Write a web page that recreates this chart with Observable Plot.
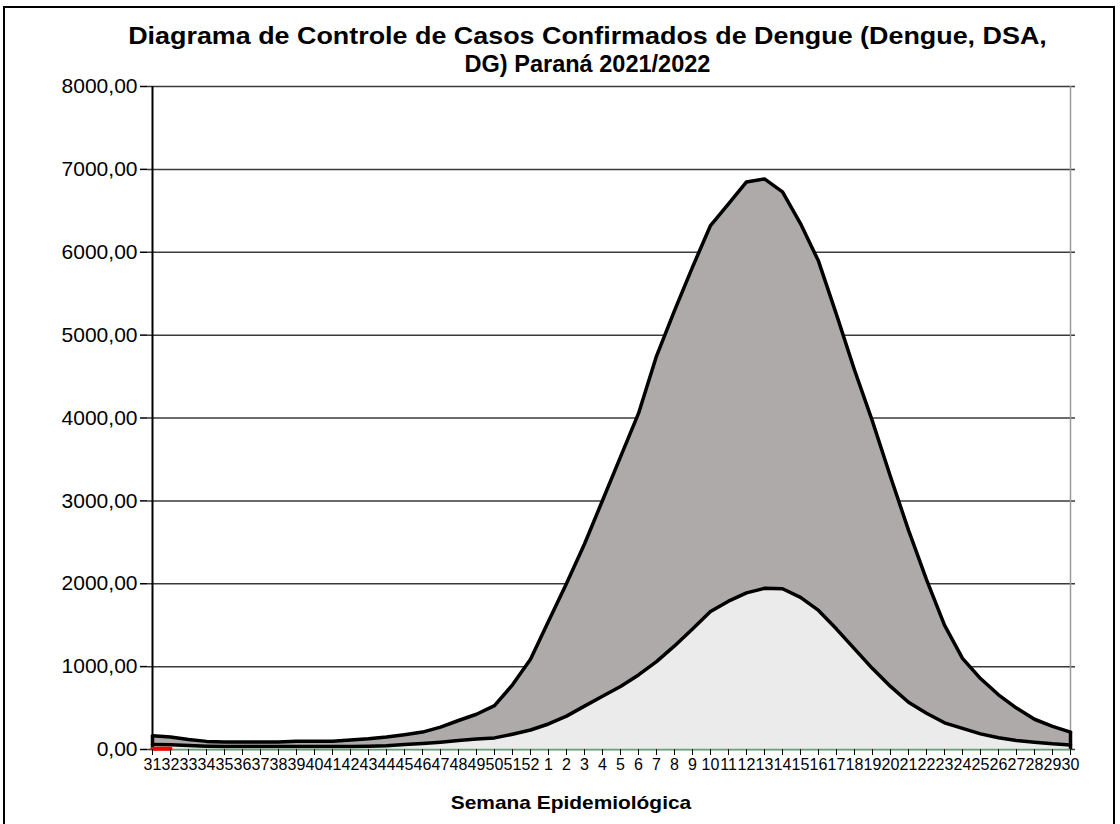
<!DOCTYPE html>
<html>
<head>
<meta charset="utf-8">
<script src="https://cdn.jsdelivr.net/npm/d3@7"></script>
<script src="https://cdn.jsdelivr.net/npm/@observablehq/plot@0.6"></script>
<style>
  html, body { margin: 0; padding: 0; background: #fff; overflow: hidden; }
  #wrap { position: relative; width: 1120px; height: 824px; overflow: hidden; font-family: "Liberation Sans", Arial, sans-serif; }
  #frame { position: absolute; left: 3px; top: 6px; width: 1112px; height: 840px; border: 2px solid #000; box-sizing: border-box; }
  .title { position: absolute; left: 0; width: 1175px; text-align: center; font-weight: bold; font-size: 24px; line-height: normal; color: #000; transform-origin: 587.5px 0; }
  #xlabel { position: absolute; left: 0; width: 1142px; top: 792px; text-align: center; font-weight: bold; font-size: 19px; transform: scaleX(1.1); transform-origin: 571px 0; }
  #chart { position: absolute; left: 0; top: 0; width: 1120px; }
  #chart svg { max-width: none; display: block; }
</style>
</head>
<body>
<div id="wrap">
  <div id="chart"></div>
  <div id="frame"></div>
  <div class="title" style="top:22px; transform: scaleX(1.12)">Diagrama de Controle de Casos Confirmados de Dengue (Dengue, DSA,</div>
  <div class="title" style="top:50px; transform: scaleX(0.98)">DG) Paraná 2021/2022</div>
  <div id="xlabel">Semana Epidemiológica</div>
</div>
<script>
const weeks = ["31","32","33","34","35","36","37","38","39","40","41","42","43","44","45","46","47","48","49","50","51","52",
  "1","2","3","4","5","6","7","8","9","10","11","12","13","14","15","16","17","18","19","20","21","22","23","24","25","26","27","28","29","30"];

const upperLimit = [165,150,120,98,90,90,90,90,100,100,100,115,130,150,178,210,270,350,425,530,780,1090,
  1549,2003,2480,3005,3530,4055,4747,5296,5821,6322,6585,6848,6885,6728,6346,5893,5248,4580,3959,3291,2647,2050,1501,1100,856,660,500,365,280,210];

const median = [60,58,48,40,36,35,35,35,35,35,35,36,40,45,60,72,88,108,128,140,185,235,
  308,403,523,642,761,900,1060,1250,1453,1665,1790,1890,1945,1940,1835,1678,1453,1215,976,761,570,437,322,255,189,141,108,88,68,55];

const lowerLimit = weeks.map(() => 0);

const casesWeeks = ["31","32"];
const casesValues = [8, 8];

const yTicks = [0,1000,2000,3000,4000,5000,6000,7000,8000];

const data = weeks.map((w, i) => ({week: w, upper: upperLimit[i], median: median[i], lower: lowerLimit[i]}));
const cases = casesWeeks.map((w, i) => ({week: w, value: casesValues[i]}));
const ends = [data[0], data[data.length - 1]];

const fmt = d => d.toFixed(2).replace(".", ",");

const chart = Plot.plot({
  width: 1120,
  height: 824,
  marginLeft: 147,
  marginRight: 45,
  marginTop: 86,
  marginBottom: 75,
  style: {fontFamily: "'Liberation Sans', Arial, sans-serif", background: "transparent", color: "#000"},
  x: {type: "point", domain: weeks, padding: 0, label: null},
  y: {domain: [0, 8000], label: null},
  marks: [
    Plot.gridY(yTicks, {stroke: "#3a3a3a", strokeOpacity: 1, strokeWidth: 1.5}),
    Plot.areaY(data, {x: "week", y: "upper", fill: "#aeaaaa", curve: "linear"}),
    Plot.areaY(data, {x: "week", y: "median", fill: "#ebebeb", curve: "linear"}),
    Plot.ruleX([weeks[weeks.length - 1]], {stroke: "#9a9a9a", strokeWidth: 1.5}),
    Plot.ruleX([weeks[0]], {stroke: "#000", strokeWidth: 2}),
    Plot.lineY(data, {x: "week", y: "upper", stroke: "#000", strokeWidth: 3.5, strokeLinejoin: "round"}),
    Plot.lineY(data, {x: "week", y: "median", stroke: "#000", strokeWidth: 3.5, strokeLinejoin: "round"}),
    Plot.ruleX(ends, {x: "week", y1: 0, y2: "upper", stroke: "#000", strokeWidth: 3.5}),
    Plot.lineY(data, {x: "week", y: "lower", stroke: "#3cb878", strokeWidth: 1.5}),
    Plot.lineY(cases, {x: "week", y: "value", stroke: "#ff0000", strokeWidth: 4}),
    Plot.axisY(yTicks, {tickSize: 7, tickPadding: 3, fontSize: 21, tickFormat: fmt, stroke: "#000", strokeWidth: 1.5}),
    Plot.axisX({tickSize: 6, tickPadding: 3, fontSize: 16, stroke: "#000"})
  ]
});
document.getElementById("chart").appendChild(chart);
</script>
</body>
</html>
